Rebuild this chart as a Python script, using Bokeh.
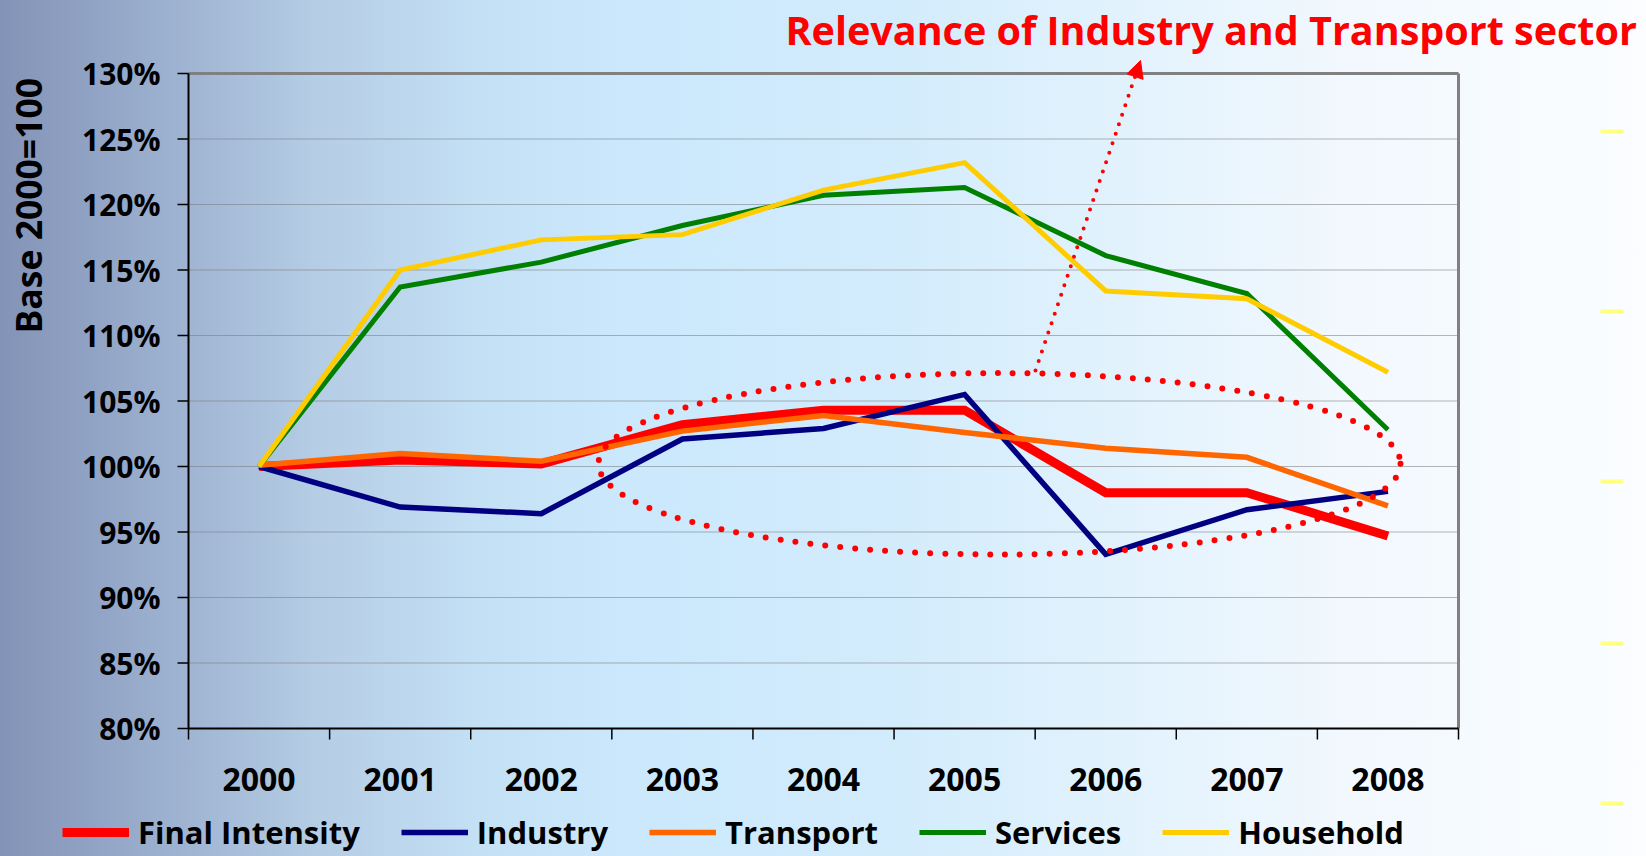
import math
from bokeh.plotting import figure
from bokeh.models import (Range1d, Arrow, NormalHead, Label, Legend, LegendItem)
from bokeh.embed import file_html
from bokeh.resources import INLINE
from bokeh.core.properties import value

# ---------------- data ----------------
years = ["2000", "2001", "2002", "2003", "2004", "2005", "2006", "2007", "2008"]
final_intensity = [100.0, 100.5, 100.2, 103.2, 104.3, 104.3, 98.0, 98.0, 94.7]
industry = [100.0, 96.9, 96.4, 102.1, 102.9, 105.5, 93.3, 96.7, 98.1]
transport = [100.1, 101.0, 100.4, 102.7, 103.9, 102.6, 101.4, 100.7, 97.0]
services = [100.0, 113.7, 115.6, 118.4, 120.7, 121.3, 116.1, 113.2, 102.8]
household = [100.0, 115.0, 117.3, 117.7, 121.1, 123.2, 113.4, 112.8, 107.2]
y_ticks = [80, 85, 90, 95, 100, 105, 110, 115, 120, 125, 130]
series_names = ["Final Intensity", "Industry", "Transport", "Services", "Household"]
title_text = "Relevance of Industry and Transport sector"
y_label_text = "Base  2000=100"

# ---------------- layout / styles ----------------
FONT = "Open Sans"
colors = ["#ff0000", "#000080", "#ff6600", "#008000", "#ffcc00"]
widths = [9, 5.5, 5.5, 5, 5]

W, H = 1646, 856
PLOT_L, PLOT_R, PLOT_T, PLOT_B = 188, 1458, 73, 728      # plot box in canvas pixels
n = len(years)
x0, x1 = -0.5, n - 0.5
y0, y1 = y_ticks[0], y_ticks[-1]
PXX = (PLOT_R - PLOT_L) / (x1 - x0)      # pixels per x unit
PXY = (PLOT_B - PLOT_T) / (y1 - y0)      # pixels per y unit
X_START = x0 - PLOT_L / PXX
X_END = x1 + (W - PLOT_R) / PXX
Y_END = y1 + PLOT_T / PXY
Y_START = y0 - (H - PLOT_B) / PXY


def dx(px):
    return X_START + px / PXX


def dy(py):
    return Y_END - py / PXY


x_idx = list(range(n))

# the frame covers the whole canvas so that no text is clipped
p = figure(width=W, height=H, output_backend="svg", toolbar_location=None,
           title=None, x_range=Range1d(X_START, X_END), y_range=Range1d(Y_START, Y_END),
           x_axis_type=None, y_axis_type=None,
           min_border=0, min_border_left=0, min_border_right=0,
           min_border_top=0, min_border_bottom=0)
p.styles = {"background": "linear-gradient(to right, #8393b7 0%, #9cb0cf 10%, "
                          "#b4cce4 19%, #c4e0f5 29%, #cbe8fc 38%, #d3ecfc 55%, "
                          "#e4f3fd 70%, #f2f8fe 82%, #fbfdff 100%)"}
p.background_fill_color = None
p.border_fill_color = None
p.outline_line_color = None
p.xgrid.grid_line_color = None
p.ygrid.grid_line_color = None

TICK = 11  # tick length in px

# horizontal grid lines
grid_y = y_ticks[1:-1]
p.segment(x0=[x0] * len(grid_y), x1=[x1] * len(grid_y), y0=grid_y, y1=grid_y,
          line_color="#7a7a7a", line_alpha=0.55, line_width=1)
# top and right border of the plot box
p.segment(x0=[x0, x1], x1=[x1, x1], y0=[y1, y0], y1=[y1, y1],
          line_color="#808080", line_width=3)

# ---------------- series ----------------
renderers = []
for name, vals, c, w in zip(series_names,
                            [final_intensity, industry, transport, services, household],
                            colors, widths):
    r = p.line(x_idx, vals, line_color=c, line_width=w, line_join="miter")
    renderers.append(r)

# ---------------- axes ----------------
# y axis line + ticks + labels
p.segment(x0=[x0], x1=[x0], y0=[y0], y1=[y1], line_color="black", line_width=2)
p.segment(x0=[x0 - TICK / PXX] * len(y_ticks), x1=[x0] * len(y_ticks),
          y0=y_ticks, y1=y_ticks, line_color="black", line_width=1.5)
p.text(x=[dx(160)] * len(y_ticks), y=y_ticks,
       text=[f"{t}%" for t in y_ticks], text_align="right", text_baseline="alphabetic",
       text_font=value(FONT), text_font_style="bold", text_font_size="30px",
       text_color="black")

# x axis line + boundary ticks + category labels
p.segment(x0=[x0], x1=[x1], y0=[y0], y1=[y0], line_color="black", line_width=2)
bounds = [i - 0.5 for i in range(n + 1)]
p.segment(x0=bounds, x1=bounds, y0=[y0] * len(bounds), y1=[y0 - TICK / PXY] * len(bounds),
          line_color="black", line_width=1.5)
p.text(x=x_idx, y=[dy(778.5)] * n, text=years, text_align="center",
       text_baseline="alphabetic", text_font=value(FONT), text_font_style="bold",
       text_font_size="32px", text_color="black")

# ---------------- annotations ----------------
# dotted ellipse highlighting Industry & Transport
ell_cx, ell_cy = dx(999), dy(463.3)
ell_w, ell_h = 802 / PXX, 181.4 / PXY
p.ellipse(x=[ell_cx], y=[ell_cy], width=[ell_w], height=[ell_h],
          fill_color=None, line_color="#ff0000", line_width=6,
          line_dash="0 15", line_cap="round")

# dotted arrow towards the headline
arr = Arrow(x_start=dx(1035), y_start=dy(370), x_end=dx(1140), y_end=dy(60),
            line_color="#ff0000", line_width=4, line_dash="0 10", line_cap="round",
            end=NormalHead(size=17, fill_color="#ff0000", line_color="#ff0000",
                           line_width=1))
p.add_layout(arr)

# faint yellow marks at the right side of the slide
mark_py = [131, 311, 481, 643, 803]
p.segment(x0=[dx(1600)] * 5, x1=[dx(1623)] * 5, y0=[dy(v) for v in mark_py],
          y1=[dy(v) for v in mark_py], line_color="#ffff80", line_width=4)

# headline
p.add_layout(Label(x=dx(785), y=dy(29.5), text=title_text, text_align="left",
                   text_baseline="alphabetic", text_color="#ff0000",
                   text_font=FONT, text_font_style="bold", text_font_size="39.5px"))

# rotated y label
p.add_layout(Label(x=dx(27.5), y=dy(333), text=y_label_text, angle=math.pi / 2,
                   text_align="left", text_baseline="alphabetic", text_color="black",
                   text_font=FONT, text_font_style="bold", text_font_size="35.5px"))

# ---------------- legend ----------------
legend = Legend(items=[LegendItem(label=nm, renderers=[r]) for nm, r in zip(series_names, renderers)],
                orientation="horizontal", location=(62, 3),
                glyph_width=67, glyph_height=30, label_standoff=9, spacing=41,
                padding=0, margin=0, border_line_color=None,
                background_fill_alpha=0,
                label_text_font=FONT, label_text_font_style="bold",
                label_text_font_size="31px", label_text_color="black")
p.add_layout(legend, "center")

open("out.html", "w").write(file_html(p, INLINE))
